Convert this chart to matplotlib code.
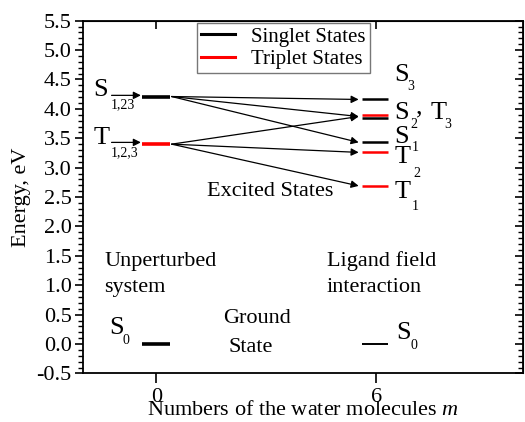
import matplotlib
matplotlib.use("Agg")
import matplotlib.pyplot as plt
from matplotlib.ticker import MultipleLocator, FormatStrFormatter

plt.rcParams["font.family"] = ["Liberation Serif", "DejaVu Serif"]
plt.rcParams["mathtext.fontset"] = "custom"
plt.rcParams["mathtext.rm"] = "Liberation Serif"
plt.rcParams["mathtext.it"] = "Liberation Serif:italic"

# Data ----------------------------------------------------------------
m_values = [0, 6]
singlet_0 = 4.21
triplet_0 = 3.40
singlets_6 = [4.16, 3.84, 3.43]
triplets_6 = [3.90, 3.26, 2.69]
ground_0 = 0.0
ground_6 = 0.0

# arrows: (start level at m=0, end level at m=6)
transitions = [(4.21, 4.16), (4.21, 3.87), (4.21, 3.43),
               (3.40, 3.87), (3.40, 3.26), (3.40, 2.69)]

fig = plt.figure(figsize=(5.25, 4.22), dpi=100)
ax = fig.add_axes([0.158, 0.115, 0.838, 0.836])

hw0 = 0.38
x6a, x6b = 5.6, 6.33

# levels at m = 0
ax.plot([-hw0, hw0], [singlet_0] * 2, color="black", lw=2.6, solid_capstyle="butt")
ax.plot([-hw0, hw0], [triplet_0] * 2, color="red", lw=2.6, solid_capstyle="butt")
ax.plot([-hw0, hw0], [ground_0] * 2, color="black", lw=2.6, solid_capstyle="butt")

# levels at m = 6
for e in singlets_6:
    ax.plot([x6a, x6b], [e, e], color="black", lw=1.8, solid_capstyle="butt")
for e in triplets_6:
    ax.plot([x6a, x6b], [e, e], color="red", lw=1.8, solid_capstyle="butt")
ax.plot([x6a, x6b], [ground_6] * 2, color="black", lw=1.4, solid_capstyle="butt")

# transitions
arr = dict(arrowstyle="-|>", color="black", lw=0.9, mutation_scale=11,
           shrinkA=0, shrinkB=0)
for e0, e6 in transitions:
    ax.annotate("", xy=(5.52, e6), xytext=(0.42, e0), arrowprops=arr)

# small arrows under the left labels
ax.annotate("", xy=(-0.42, singlet_0 + 0.02), xytext=(-1.22, singlet_0 + 0.02), arrowprops=arr)
ax.annotate("", xy=(-0.42, triplet_0 + 0.03), xytext=(-1.22, triplet_0 + 0.03), arrowprops=arr)

fs = 16
big = 19
sub = 10
# left labels
ax.text(-1.72, 4.32, "S", fontsize=big, va="center")
ax.text(-1.23, 4.07, "1,23", fontsize=sub, va="center")
ax.text(-1.72, 3.50, "T", fontsize=big, va="center")
ax.text(-1.23, 3.26, "1,2,3", fontsize=sub, va="center")

# right labels
lx = 6.49
ax.text(lx, 4.58, "S", fontsize=big, va="center")
ax.text(6.85, 4.38, "3", fontsize=sub, va="center")
ax.text(lx, 3.93, "S", fontsize=big, va="center")
ax.text(6.92, 3.73, "2", fontsize=sub, va="center")
ax.text(7.08, 4.02, ",", fontsize=big, va="center")
ax.text(7.47, 3.93, "T", fontsize=big, va="center")
ax.text(7.85, 3.73, "3", fontsize=sub, va="center")
ax.text(lx, 3.53, "S", fontsize=big, va="center")
ax.text(6.98, 3.34, "1", fontsize=sub, va="center")
ax.text(lx, 3.19, "T", fontsize=big, va="center")
ax.text(7.02, 2.90, "2", fontsize=sub, va="center")
ax.text(lx, 2.59, "T", fontsize=big, va="center")
ax.text(6.98, 2.34, "1", fontsize=sub, va="center")

ax.text(1.39, 2.60, "Excited States", fontsize=fs, va="center")

ax.text(-1.41, 1.41, "Unperturbed", fontsize=fs, va="center")
ax.text(-1.41, 0.97, "system", fontsize=fs, va="center")
ax.text(4.65, 1.41, "Ligand field", fontsize=fs, va="center")
ax.text(4.65, 0.97, "interaction", fontsize=fs, va="center")

ax.text(-1.28, 0.27, "S", fontsize=big, va="center")
ax.text(-0.92, 0.06, "0", fontsize=sub, va="center")
ax.text(6.55, 0.19, "S", fontsize=big, va="center")
ax.text(6.93, -0.02, "0", fontsize=sub, va="center")

ax.text(1.82, 0.44, "Ground", fontsize=fs, va="center")
ax.text(1.98, -0.06, "State", fontsize=fs, va="center")

# legend
h1, = ax.plot([], [], color="black", lw=2.2)
h2, = ax.plot([], [], color="red", lw=2.2)
leg = ax.legend([h1, h2], ["Singlet States", "Triplet States"], fontsize=15,
                loc="upper left", bbox_to_anchor=(0.255, 1.0), frameon=True,
                fancybox=False, handlelength=1.6, borderpad=0.2,
                labelspacing=0.15, handletextpad=0.8, borderaxespad=0.1)
leg.get_frame().set_edgecolor("#555555")
leg.get_frame().set_linewidth(1.0)

ax.set_xlim(-2, 10)
ax.set_ylim(-0.5, 5.5)
ax.set_xticks(m_values)
ax.yaxis.set_major_locator(MultipleLocator(0.5))
ax.yaxis.set_minor_locator(MultipleLocator(0.1))
ax.yaxis.set_major_formatter(FormatStrFormatter("%.1f"))
ax.tick_params(axis="y", which="major", direction="out", length=6, width=1.2, labelsize=16, pad=2)
ax.tick_params(axis="y", which="minor", direction="out", length=3.5, width=1.0)
ax.tick_params(axis="x", which="major", direction="out", length=7, width=1.2, labelsize=16, pad=3.5)

# right axis ticks inward, top ticks inward
sec_r = ax.secondary_yaxis("right")
sec_r.yaxis.set_major_locator(MultipleLocator(0.5))
sec_r.yaxis.set_minor_locator(MultipleLocator(0.1))
sec_r.tick_params(which="major", direction="in", length=6, width=1.2, labelright=False)
sec_r.tick_params(which="minor", direction="in", length=3.5, width=1.0)
sec_t = ax.secondary_xaxis("top")
sec_t.set_xticks(m_values)
sec_t.tick_params(direction="in", length=6, width=1.2, labeltop=False)

for s in ax.spines.values():
    s.set_linewidth(1.3)

ax.set_ylabel("Energy, eV", fontsize=16, labelpad=4)
ax.set_xlabel("Numbers of the water molecules $m$", fontsize=16, labelpad=-4)

fig.savefig("out.png", dpi=100)
